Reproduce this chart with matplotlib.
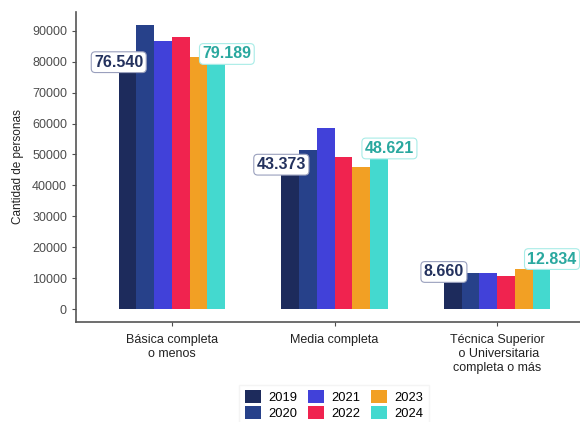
import numpy as np
import matplotlib
matplotlib.use('Agg')
import matplotlib.pyplot as plt
from matplotlib.patches import Patch

plt.rcParams['font.family'] = ['Liberation Sans', 'DejaVu Sans']

categorias = ['Básica completa\no menos', 'Media completa',
              'Técnica Superior\n o Universitaria\ncompleta o más']
anios = ['2019', '2020', '2021', '2022', '2023', '2024']
valores = {
    '2019': [76540, 43373, 8660],
    '2020': [91900, 51400, 11550],
    '2021': [86800, 58500, 11600],
    '2022': [88100, 49300, 10700],
    '2023': [81450, 46050, 12900],
    '2024': [79189, 48621, 12834],
}
etiquetas_2019 = ['76.540', '43.373', '8.660']
etiquetas_2024 = ['79.189', '48.621', '12.834']
colores = ['#1d2b5c', '#27418a', '#4141d9', '#f0234f', '#f2a024', '#44d9cf']

fig = plt.figure(figsize=(5.8, 4.22), dpi=100)
ax = fig.add_axes([76/580, 100/422, 517/580, 310/422])

x = np.arange(len(categorias))
w = 0.109
for i, a in enumerate(anios):
    ax.bar(x + (i - 2.5) * w, valores[a], width=w, color=colores[i], edgecolor='none')

# etiquetas 2019 y 2024
for j in range(len(categorias)):
    ax.text(x[j] - 2.5 * w - 0.5 * w, valores['2019'][j] + 900, etiquetas_2019[j],
            ha='center', va='bottom', fontsize=11.5, fontweight='bold', color='#24325e',
            bbox=dict(boxstyle='round,pad=0.18,rounding_size=0.25', fc='white',
                      ec='#9aa0bd', lw=0.8))
    ax.text(x[j] + 2.5 * w + 0.6 * w, valores['2024'][j] + 900, etiquetas_2024[j],
            ha='center', va='bottom', fontsize=11.5, fontweight='bold', color='#2aa89f',
            bbox=dict(boxstyle='round,pad=0.18,rounding_size=0.25', fc='white',
                      ec='#a8ece7', lw=0.8))

ax.set_xlim(-0.59, 2.59)
ax.set_ylim(-4200, 96100)
ax.set_yticks(np.arange(0, 90001, 10000))
ax.set_xticks(x)
ax.set_xticklabels(categorias, fontsize=9, color='#222222')
ax.tick_params(axis='y', labelsize=9, labelcolor='#4d4d4d', color='#4d4d4d', length=3)
ax.tick_params(axis='x', color='#4d4d4d', length=3, pad=6)
ax.set_ylabel('Cantidad de personas', fontsize=8.5, color='#222222', labelpad=6)

for s in ['top', 'right']:
    ax.spines[s].set_visible(False)
for s in ['left', 'bottom']:
    ax.spines[s].set_color('#555555')
    ax.spines[s].set_linewidth(1.2)

handles = [Patch(facecolor=colores[i], edgecolor='none', label=a) for i, a in enumerate(anios)]
fig.legend(handles=handles, ncol=3, loc='center', bbox_to_anchor=(334/580, 1 - 405/422),
           frameon=True, fontsize=9.3, handlelength=1.25, handleheight=1.1,
           columnspacing=0.85, handletextpad=0.55, labelspacing=0.2,
           edgecolor='#f2f2f2', facecolor='white', fancybox=False, borderpad=0.4)

fig.savefig('out.png', dpi=100)
